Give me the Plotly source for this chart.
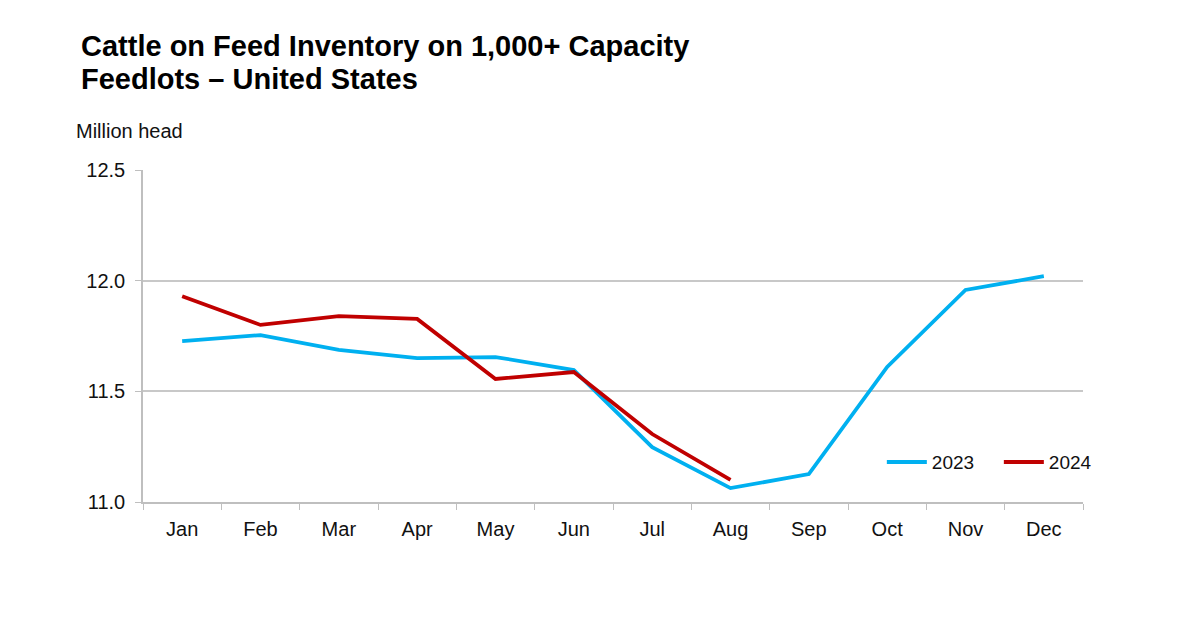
import plotly.graph_objects as go

months = ["Jan", "Feb", "Mar", "Apr", "May", "Jun", "Jul", "Aug", "Sep", "Oct", "Nov", "Dec"]
v2023 = [11.727, 11.754, 11.687, 11.65, 11.655, 11.596, 11.248, 11.063, 11.126, 11.61, 11.958, 12.02]
months2024 = ["Jan", "Feb", "Mar", "Apr", "May", "Jun", "Jul", "Aug"]
v2024 = [11.93, 11.80, 11.84, 11.827, 11.556, 11.587, 11.307, 11.10]

title_lines = ["Cattle on Feed Inventory on 1,000+ Capacity", "Feedlots – United States"]
y_title = "Million head"

FONT = "Liberation Sans, Arial, sans-serif"

fig = go.Figure()
fig.add_trace(go.Scatter(x=months, y=v2023, mode="lines", name="2023",
                         line=dict(color="#00B0F0", width=3.8)))
fig.add_trace(go.Scatter(x=months2024, y=v2024, mode="lines", name="2024",
                         line=dict(color="#C00000", width=3.8)))

annotations = []
for i, line in enumerate(title_lines):
    annotations.append(dict(text="<b>" + line + "</b>", xref="paper", yref="paper",
                            x=0, y=1.0, xshift=-64, yshift=124 - 33 * i,
                            xanchor="left", yanchor="middle", align="left",
                            showarrow=False,
                            font=dict(size=29, color="#000000", family=FONT)))
annotations.append(dict(text=y_title, xref="paper", yref="paper", x=0, y=1.0,
                        xshift=-69, yshift=39, xanchor="left", yanchor="middle",
                        showarrow=False,
                        font=dict(size=20, color="#111111", family=FONT)))

fig.update_layout(
    width=1200, height=630,
    paper_bgcolor="white", plot_bgcolor="white",
    margin=dict(l=143, r=117, t=170, b=128),
    font=dict(family=FONT, size=20, color="#111111"),
    showlegend=True,
    legend=dict(orientation="h", x=0.786, y=0.12, xanchor="left", yanchor="middle",
                bgcolor="rgba(0,0,0,0)", font=dict(size=19), itemwidth=40,
                entrywidth=62, entrywidthmode="pixels", tracegroupgap=0),
    xaxis=dict(type="category", categoryorder="array", categoryarray=months,
               range=[-0.5, 11.5], showgrid=False, showline=True,
               linecolor="#BFBFBF", linewidth=1.5, ticks="outside",
               tickson="boundaries", ticklen=6, tickcolor="#BFBFBF",
               ticklabelstandoff=8, tickfont=dict(size=20)),
    yaxis=dict(range=[11.0, 12.5], tickvals=[11.0, 11.5, 12.0, 12.5],
               ticktext=["11.0", "11.5", "12.0", "12.5"],
               showgrid=True, gridcolor="#C8C8C8", gridwidth=1.5,
               showline=True, linecolor="#BFBFBF", linewidth=1.5,
               ticks="outside", ticklen=6, tickcolor="#BFBFBF",
               ticklabelstandoff=6, zeroline=False, tickfont=dict(size=20)),
    annotations=annotations,
)

fig.write_html("out.html")
